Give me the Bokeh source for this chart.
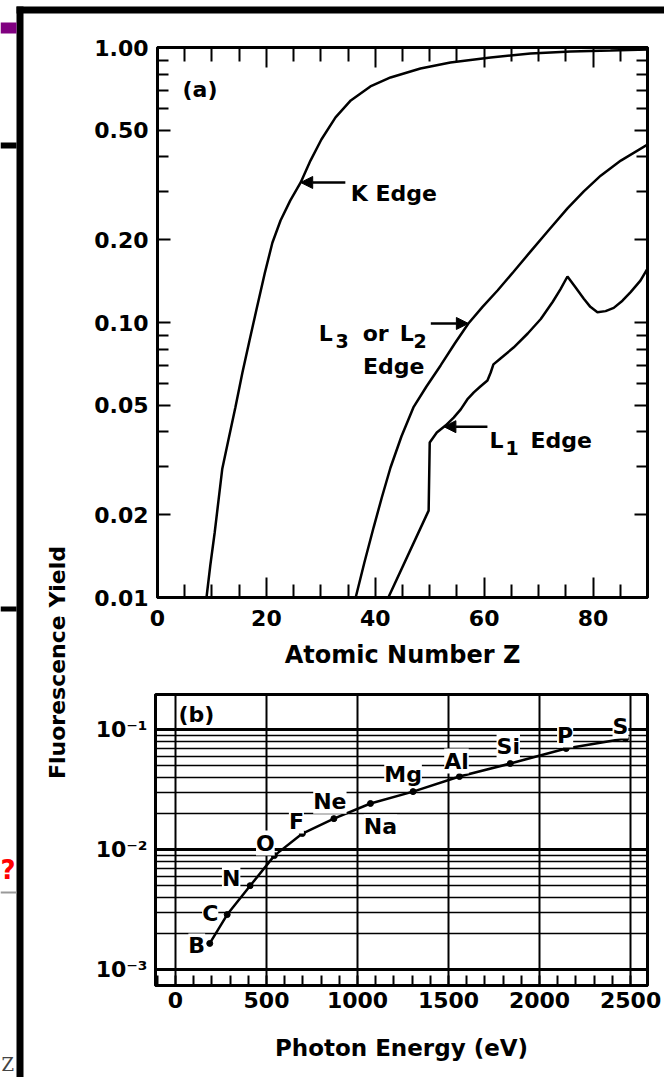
import math
from bokeh.plotting import figure
from bokeh.layouts import column
from bokeh.models import (LinearAxis, LogAxis, FixedTicker, PrintfTickFormatter,
                          CustomJSTickFormatter, Label, LabelSet, ColumnDataSource,
                          Arrow, NormalHead, BoxAnnotation, Grid)
from bokeh.core.properties import value
from bokeh.embed import file_html
from bokeh.resources import INLINE

FONT = "DejaVu Sans"
INK = "black"

# ---------------- (a) fluorescence yield versus atomic number ----------------
k_z = [9.0, 9.7, 10.5, 11.2, 11.9, 13.0, 14.3, 15.6, 16.9, 18.2, 19.7, 21.1, 22.6,
       24.4, 26.3, 28.1, 30.1, 32.7, 35.5, 39.1, 42.8, 48.3, 53.8, 61.2, 68.5,
       75.9, 83.2, 90.0]
k_yield = [0.0100, 0.0131, 0.0172, 0.0225, 0.0294, 0.0372, 0.0491, 0.0658, 0.0860,
           0.112, 0.151, 0.195, 0.235, 0.278, 0.323, 0.388, 0.463, 0.557, 0.642,
           0.722, 0.778, 0.839, 0.882, 0.920, 0.951, 0.967, 0.975, 0.983]

l3_z = [36.4, 38.0, 39.7, 41.2, 42.8, 44.8, 47.0, 49.4, 52.0, 54.6, 57.1, 59.7,
        62.5, 65.4, 68.5, 71.8, 75.3, 78.3, 81.4, 85.1, 90.0]
l3_yield = [0.0100, 0.0134, 0.0180, 0.0231, 0.0297, 0.0385, 0.0491, 0.0585, 0.0698,
            0.0839, 0.0992, 0.114, 0.131, 0.153, 0.181, 0.216, 0.260, 0.300, 0.342,
            0.388, 0.444]

l1_z = [42.4, 49.8, 50.0, 51.3, 52.9, 54.4, 55.7, 56.9, 58.1, 59.3, 60.6, 61.2,
        61.7, 63.0, 65.4, 68.0, 70.4, 72.6, 74.0, 75.3, 76.8, 78.3, 79.5, 80.8,
        82.3, 83.8, 85.4, 86.9, 88.7, 90.0]
l1_yield = [0.0100, 0.0207, 0.0366, 0.0398, 0.0422, 0.0451, 0.0483, 0.0525, 0.0557,
            0.0585, 0.0615, 0.0658, 0.0704, 0.0740, 0.0811, 0.0912, 0.103, 0.119,
            0.132, 0.147, 0.134, 0.122, 0.114, 0.109, 0.110, 0.113, 0.120, 0.129,
            0.142, 0.157]

a_x_ticks = [0, 20, 40, 60, 80]
a_x_minor = [5, 10, 15, 25, 30, 35, 45, 50, 55, 65, 70, 75, 85]
a_y_ticks = [0.01, 0.02, 0.05, 0.10, 0.20, 0.50, 1.00]
a_y_minor = [0.03, 0.04, 0.06, 0.07, 0.08, 0.09, 0.3, 0.4, 0.6, 0.7, 0.8, 0.9]

# ---------------- (b) K-shell yield of light elements ----------------
elements = ["B", "C", "N", "O", "F", "Ne", "Na", "Mg", "Al", "Si", "P", "S"]
edge_ev = [188, 284, 410, 543, 697, 870, 1071, 1305, 1560, 1839, 2146, 2472]
light_yield = [0.00165, 0.00287, 0.0050, 0.0089, 0.0136, 0.0181, 0.0242, 0.0304,
               0.0406, 0.0521, 0.0695, 0.0841]
# label nudges in pixels (x right, y up) from each point
name_dx = [-13, -17, -19, -9, -6, -4, 10, -10, -3, -2, -1, -5]
name_dy = [-10, -6, 0, 5, 5, 10, -31, 10, 8, 10, 6, 5]

b_x_ticks = [0, 500, 1000, 1500, 2000, 2500]
b_x_minor = [v for v in range(-100, 2600, 100) if v % 500]
b_y_ticks = [0.001, 0.01, 0.1]
b_y_lines = [0.002, 0.003, 0.004, 0.005, 0.006, 0.007, 0.008, 0.009,
             0.02, 0.03, 0.04, 0.05, 0.06, 0.07, 0.08, 0.09]

BLANK = CustomJSTickFormatter(code="return '';")


def style_axis(ax, tick_in, minor_in, labels=True):
    ax.axis_line_width = 3
    ax.axis_line_color = INK
    ax.major_tick_in = tick_in
    ax.major_tick_out = 0
    ax.minor_tick_in = minor_in
    ax.minor_tick_out = 0
    ax.major_tick_line_width = 2
    ax.minor_tick_line_width = 2
    ax.major_tick_line_color = INK
    ax.minor_tick_line_color = INK
    ax.major_label_text_font = FONT
    ax.major_label_text_font_style = "bold"
    ax.major_label_text_font_size = "22px"
    ax.major_label_text_color = INK
    ax.axis_label_text_font = FONT
    ax.axis_label_text_font_style = "bold"
    ax.axis_label_text_color = INK
    if not labels:
        ax.formatter = BLANK
        ax.major_label_standoff = 0


def note(p, x, y, text, size="22px", align="left"):
    p.add_layout(Label(x=x, y=y, text=text, text_font=FONT, text_font_size=size,
                       text_font_style="bold", text_color=INK, text_align=align,
                       text_baseline="alphabetic"))


def pointer(p, x0, x1, y):
    p.add_layout(Arrow(end=NormalHead(size=12, fill_color=INK, line_color=INK, line_width=1),
                       x_start=x0, y_start=y, x_end=x1, y_end=y,
                       line_color=INK, line_width=2.5))


# ================= page backdrop: slide frame and shared title =================
page = figure(width=664, height=1077, x_range=(0, 664), y_range=(1077, 0),
              min_border=0, output_backend="svg", toolbar_location=None,
              x_axis_location=None, y_axis_location=None)
page.frame_align = False
page.grid.visible = False
page.outline_line_color = None
page.background_fill_color = "white"
page.border_fill_color = "white"

for left, right, top, bottom, color in [
        (16, 23, 6, 1077, INK),           # vertical rule
        (16, 664, 6, 13, INK),            # top rule
        (0, 16, 22, 33, "#800080"),
        (0, 16, 142, 148, INK),
        (0, 16, 606, 611, INK),
        (0, 16, 891, 893, "#999999")]:
    page.add_layout(BoxAnnotation(left=left, right=right, top=top, bottom=bottom,
                                  fill_color=color, fill_alpha=1.0, line_alpha=0.0))

page.add_layout(Label(x=0, y=869, text="?", text_font=FONT, text_font_size="26px",
                      text_font_style="bold", text_color="red",
                      text_baseline="alphabetic"))
page.add_layout(Label(x=1, y=1064, text="Z", text_font="DejaVu Serif",
                      text_font_size="18px", text_color="#444444",
                      text_baseline="alphabetic"))
page.add_layout(Label(x=57, y=662, text="Fluorescence Yield", angle=math.pi / 2,
                      text_font=FONT, text_font_size="22px", text_font_style="bold",
                      text_color=INK, text_align="center", text_baseline="middle"))

# ================= panel (a) =================
pa = figure(width=664, height=690, x_range=(0, 90), y_range=(0.01, 1.0),
            y_axis_type="log", output_backend="svg", toolbar_location=None,
            min_border_left=157, min_border_right=17, min_border_top=47,
            min_border_bottom=93)
pa.frame_align = False
pa.margin = (-1077, 0, 0, 0)
pa.grid.visible = False
pa.outline_line_color = INK
pa.outline_line_width = 3
pa.border_fill_color = None
pa.background_fill_color = "white"

xa = pa.xaxis[0]
xa.ticker = FixedTicker(ticks=a_x_ticks, minor_ticks=a_x_minor)
style_axis(xa, 20, 13)
xa.major_label_standoff = 12
xa.axis_label = "Atomic Number Z"
xa.axis_label_text_font_size = "24px"
xa.axis_label_standoff = 12

ya = pa.yaxis[0]
ya.ticker = FixedTicker(ticks=a_y_ticks, minor_ticks=a_y_minor)
ya.formatter = PrintfTickFormatter(format="%.2f")
style_axis(ya, 13, 11)
ya.major_label_standoff = 9

top_a = LinearAxis(ticker=FixedTicker(ticks=a_x_ticks, minor_ticks=a_x_minor))
style_axis(top_a, 20, 14, labels=False)
pa.add_layout(top_a, "above")
right_a = LogAxis(ticker=FixedTicker(ticks=a_y_ticks, minor_ticks=a_y_minor))
style_axis(right_a, 13, 11, labels=False)
pa.add_layout(right_a, "right")

for zs, ys in ((k_z, k_yield), (l3_z, l3_yield), (l1_z, l1_yield)):
    pa.line(zs, ys, line_color=INK, line_width=2.5)

note(pa, 4.6, 0.703, "(a)")
pointer(pa, 34.5, 26.3, 0.323)
note(pa, 35.5, 0.294, "K Edge")
pointer(pa, 50.2, 57.1, 0.0992)
note(pa, 29.6, 0.0912, "L")
note(pa, 32.7, 0.0860, "3", size="19px")
note(pa, 37.7, 0.0912, "or")
note(pa, 44.5, 0.0912, "L")
note(pa, 47.0, 0.0860, "2", size="19px")
note(pa, 43.4, 0.0692, "Edge", align="center")
pointer(pa, 60.6, 52.6, 0.0418)
note(pa, 61.0, 0.0372, "L")
note(pa, 63.9, 0.0351, "1", size="19px")
note(pa, 68.5, 0.0372, "Edge")

# ================= panel (b) =================
pb = figure(width=664, height=387, x_range=(-110, 2593), y_range=(0.000736, 0.196),
            y_axis_type="log", output_backend="svg", toolbar_location=None,
            min_border_left=155, min_border_right=17, min_border_top=4,
            min_border_bottom=92)
pb.frame_align = False
pb.border_fill_color = None
pb.background_fill_color = "white"
pb.outline_line_color = INK
pb.outline_line_width = 3

pb.xgrid.ticker = FixedTicker(ticks=b_x_ticks)
pb.xgrid.grid_line_color = INK
pb.xgrid.grid_line_width = 2
pb.ygrid.ticker = FixedTicker(ticks=b_y_lines)
pb.ygrid.grid_line_color = INK
pb.ygrid.grid_line_width = 1.5
pb.add_layout(Grid(dimension=1, ticker=FixedTicker(ticks=b_y_ticks),
                   grid_line_color=INK, grid_line_width=3))

xb = pb.xaxis[0]
xb.ticker = FixedTicker(ticks=b_x_ticks, minor_ticks=b_x_minor)
style_axis(xb, 10, 10)
xb.major_label_standoff = 6
xb.axis_label = "Photon Energy (eV)"
xb.axis_label_text_font_size = "23px"
xb.axis_label_standoff = 24

yb = pb.yaxis[0]
yb.ticker = FixedTicker(ticks=b_y_ticks, minor_ticks=[])
yb.formatter = CustomJSTickFormatter(code="""
    const sup = {"-1": "\u207b\u00b9", "-2": "\u207b\u00b2", "-3": "\u207b\u00b3"};
    return "10" + sup[String(Math.round(Math.log10(tick)))];
""")
style_axis(yb, 8, 0)
yb.major_label_standoff = 8

pb.line(edge_ev, light_yield, line_color=INK, line_width=2.5)
pb.scatter(edge_ev, light_yield, size=6, color=INK)

names = ColumnDataSource(dict(x=edge_ev, y=light_yield, name=elements,
                              dx=name_dx, dy=name_dy))
pb.add_layout(LabelSet(source=names, x="x", y="y", text="name", x_offset="dx",
                       y_offset="dy", text_align="center", text_baseline="alphabetic",
                       text_font=value(FONT), text_font_size="22px",
                       text_font_style="bold", text_color=INK,
                       background_fill_color="white"))
pb.add_layout(Label(x=16, y=0.133, text="(b)", text_font=FONT, text_font_size="22px",
                    text_font_style="bold", text_color=INK, text_align="left",
                    text_baseline="alphabetic", background_fill_color="white"))

layout = column(page, pa, pb)
with open("out.html", "w") as f:
    f.write(file_html(layout, INLINE))
